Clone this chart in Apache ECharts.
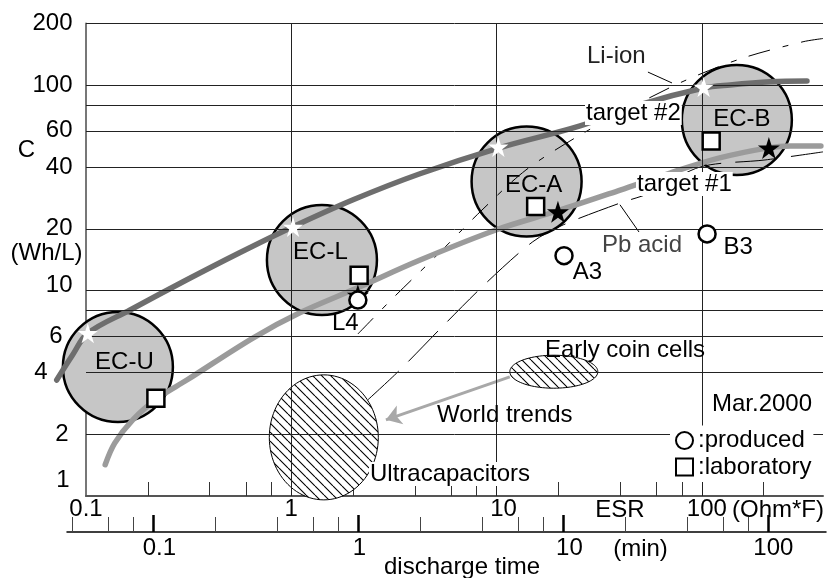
<!DOCTYPE html>
<html><head><meta charset="utf-8">
<script src="https://cdn.jsdelivr.net/npm/echarts@6/dist/echarts.min.js"></script>
<style>html,body{margin:0;padding:0;background:#fff}#c{width:827px;height:578px}</style>
</head><body><div id="c"></div>
<script>
// ---------- data ----------
const yTickLabels = [1, 2, 4, 6, 10, 20, 40, 60, 100, 200];
const yGridValues = [2, 4, 6, 8, 10, 20, 40, 60, 80, 100, 200];
const esrGridValues = [1, 10, 100];
const esrTickValues = [0.2, 0.4, 0.6, 0.8, 1, 2, 4, 6, 8, 10, 20, 40, 60, 80, 100, 200];
const esrLabelValues = [0.1, 1, 10, 100];
const timeMinorTicks = [0.04, 0.06, 0.08, 0.2, 0.4, 0.6, 0.8, 2, 4, 6, 8, 20, 40, 60, 80];
const timeMajorTicks = [0.1, 1, 10, 100];

const capNames = ['EC-U', 'EC-L', 'EC-A', 'EC-B'];
const capX = [0.143, 1.41, 14.0, 148];
const capY = [4.25, 14.1, 34.0, 67.8];

const labX = [0.219, 2.14, 15.5, 111];
const labY = [2.99, 11.9, 25.7, 53.6];

const prodNames = ['L4', 'A3', 'B3'];
const prodX = [2.11, 21.3, 106];
const prodY = [9.0, 14.8, 18.9];

const blackStarX = [2.11, 19.9, 212];
const blackStarY = [9.5, 24.2, 49.5];

const whiteStarX = [0.102, 1.02, 10.2, 102];
const whiteStarY = [6.2, 20.4, 50.1, 98];

const target2X = [0.072, 0.086, 0.102, 0.164, 0.31, 0.56, 0.99, 2.0, 4.2, 10.3, 25.5, 50, 102, 137, 215, 325];
const target2Y = [3.67, 4.86, 6.2, 8.05, 11.3, 15.3, 20.2, 27.7, 37, 49.6, 63.4, 80.5, 97, 100.4, 104, 105];

const target1X = [0.124, 0.138, 0.169, 0.224, 0.31, 0.65, 1.1, 2.09, 4.24, 10, 19.9, 40, 70, 122, 210, 270, 380];
const target1Y = [1.42, 1.81, 2.35, 3.0, 3.67, 5.88, 7.8, 10.3, 14.1, 19.8, 24.5, 30.9, 37.4, 44.3, 49.6, 50.7, 50.7];

const liIonX = [2.11, 3.13, 5.13, 8.49, 13.9, 24.6, 45.6, 83.7, 159, 311, 389];
const liIonY = [6.15, 9.21, 14.9, 24.7, 38.7, 56.1, 78.5, 106, 136, 163, 169];

const pbAcidX = [2.36, 3.38, 5.48, 8.98, 15.0, 21.1, 39.9, 55.9, 97.9, 203, 389];
const pbAcidY = [2.94, 4.11, 6.73, 11.0, 17.3, 20.9, 26.7, 29.9, 40.0, 43.3, 47.4];

const regionNames = ['Ultracapacitors', 'Early coin cells'];
const regionX = [1.44, 19.0];
const regionY = [1.93, 4.03];

const liIonLeaderX = [54.6, 71.5];
const liIonLeaderY = [116, 102.7];
const pbLeaderX = [39.9, 49.4];
const pbLeaderY = [26.2, 19.3];

const trendFrom = [11.6, 3.80];
const trendTo = [2.89, 2.35];

// ---------- styles ----------
const FONT = '"Liberation Sans", Arial, sans-serif';
const FS = 24;
const STAR = 'path://M50,0L61.8,35.1L98.9,35.1L68.9,56.8L80.3,91.9L50,70.2L19.7,91.9L31.1,56.8L1.1,35.1L38.2,35.1Z';
const capLabelOffsets = [[6.5, -5], [-1.5, -8], [7, 3.5], [5, -1]];
const prodLabelOffsets = [[-12.5, 23.5], [23.5, 17], [31, 13]];
const regionSizes = [[109, 125], [88, 33]];

const zip = (xs, ys) => xs.map((x, i) => [x, ys[i]]);
const fmt = v => String(Math.round(v * 1000) / 1000);
const ts = (extra) => Object.assign({fontSize: FS, fontFamily: FONT, color: '#000'}, extra || {});

const yRichKey = {'6': 's6', '4': 's4', '2': 's2', '1': 's1', '10': 's10'};
const esrRichKey = {'10': 'p14', '100': 'p10'};
const timeRichKey = {'0.1': 'p12', '1': 'p2', '10': 'p12', '100': 'p10'};

function hatchPattern(size, lw) {
  const c = document.createElement('canvas');
  c.width = size; c.height = size;
  const g = c.getContext('2d');
  g.fillStyle = '#fff'; g.fillRect(0, 0, size, size);
  g.strokeStyle = '#000'; g.lineWidth = lw;
  g.beginPath();
  [-size, 0, size].forEach(o => { g.moveTo(o, 0); g.lineTo(o + size, size); });
  g.stroke();
  return c;
}
const HATCH = hatchPattern(9, 1.1);

function ellipsePoints(cx, cy, rx, ry) {
  const pts = [];
  for (let i = 0; i < 96; i++) {
    const a = i / 96 * Math.PI * 2;
    pts.push([cx + rx * Math.cos(a), cy + ry * Math.sin(a)]);
  }
  return pts;
}

function txt(text, x, y, align, extra) {
  return {
    type: 'text', x: x, y: y, z: 100, silent: true,
    style: Object.assign({
      text: text, fontSize: FS, fontFamily: FONT, fill: '#000',
      align: align, textAlign: align, verticalAlign: 'middle', textVerticalAlign: 'middle'
    }, extra || {})
  };
}

const chart = echarts.init(document.getElementById('c'), null, {renderer: 'canvas'});
const markerStyle = {color: '#fff', borderColor: '#000', borderWidth: 2.5};

chart.setOption({
  animation: false,
  backgroundColor: '#fff',
  textStyle: {fontFamily: FONT},
  grid: [
    {left: 86, top: 23.5, width: 737, height: 472.5},
    {left: 67, top: 531, width: 759, height: 1},
    // same ESR/C scales, extended to the left so the target #2 curve can start outside the frame
    {left: 24.2, top: 23.5, width: 798.8, height: 472.5}
  ],
  xAxis: [
    {
      gridIndex: 0, type: 'log', logBase: 10, min: 0.1, max: 389, position: 'bottom',
      axisLine: {show: true, onZero: false, lineStyle: {color: '#555', width: 2}},
      axisTick: {show: true, inside: true, length: 14, customValues: esrTickValues, lineStyle: {color: '#333', width: 1}},
      axisLabel: {
        show: true, customValues: esrLabelValues, margin: 1, fontSize: FS, fontFamily: FONT, color: '#000',
        formatter: v => { const t = fmt(v); const k = esrRichKey[t] || 'n'; return '{' + k + '|' + t + '}'; },
        rich: {n: ts(), p14: ts({padding: [0, 0, 0, 14]}), p10: ts({padding: [0, 0, 0, 10]})}
      },
      splitLine: {show: false}, minorTick: {show: false}
    },
    {
      gridIndex: 1, type: 'log', logBase: 10, min: 0.0379, max: 191, position: 'bottom',
      axisLine: {show: true, onZero: false, lineStyle: {color: '#000', width: 1.5}},
      axisTick: {show: true, inside: true, length: 15, customValues: timeMinorTicks, lineStyle: {color: '#444', width: 1}},
      axisLabel: {show: false},
      splitLine: {show: false}
    },
    {
      gridIndex: 1, type: 'log', logBase: 10, min: 0.0379, max: 191, position: 'bottom',
      axisLine: {show: false, onZero: false},
      axisTick: {show: true, inside: true, length: 17, customValues: timeMajorTicks, lineStyle: {color: '#000', width: 2.5}},
      axisLabel: {
        show: true, customValues: timeMajorTicks, margin: 4, fontSize: FS, fontFamily: FONT, color: '#000',
        formatter: v => { const t = fmt(v); const k = timeRichKey[t] || 'n'; return '{' + k + '|' + t + '}'; },
        rich: {n: ts(), p12: ts({padding: [0, 0, 0, 12]}), p10: ts({padding: [0, 0, 0, 10]}), p2: ts({padding: [0, 0, 0, 2]})}
      },
      splitLine: {show: false}
    },
    {gridIndex: 2, type: 'log', logBase: 10, min: 0.05, max: 389, show: false}
  ],
  yAxis: [
    {
      gridIndex: 0, type: 'log', logBase: 10, min: 1, max: 200,
      axisLine: {show: true, lineStyle: {color: '#777', width: 2}},
      axisTick: {show: false},
      axisLabel: {
        show: true, customValues: yTickLabels, margin: 13.5, fontSize: FS, fontFamily: FONT, color: '#000',
        formatter: v => { const t = fmt(v); const k = yRichKey[t] || 'n'; return '{' + k + '|' + t + '}'; },
        rich: {
          n: ts(), s6: ts({padding: [0, 10, 0, 0]}), s4: ts({padding: [0, 25, 0, 0]}),
          s2: ts({padding: [0, 4, 0, 0]}), s1: ts({padding: [0, 3, 32, 0]}), s10: ts({padding: [0, 0, 11, 0]})
        }
      },
      splitLine: {show: false}
    },
    {gridIndex: 1, type: 'value', show: false, min: 0, max: 1},
    {gridIndex: 2, type: 'log', logBase: 10, min: 1, max: 200, show: false}
  ],
  legend: {
    data: [{name: 'produced', icon: 'circle'}, {name: 'laboratory', icon: 'rect'}],
    orient: 'vertical', left: 670, top: 425.5, padding: [3, 2, 3, 5],
    itemWidth: 17, itemHeight: 17, itemGap: 2.5, itemTextGap: 5,
    backgroundColor: '#fff', selectedMode: false, z: 20,
    formatter: ':{name}',
    textStyle: {fontSize: FS, fontFamily: FONT, color: '#000', lineHeight: 20}
  },
  series: [
    { // gray capacitor circles
      type: 'scatter', name: 'capacitors', z: 1, symbol: 'circle', symbolSize: 110, silent: true,
      itemStyle: {color: '#c6c6c6', borderColor: '#000', borderWidth: 2.5, opacity: 1},
      label: {show: true, position: 'inside', formatter: '{b}', fontSize: FS, fontFamily: FONT, color: '#000'},
      data: capNames.map((n, i) => ({name: n, value: [capX[i], capY[i]], label: {offset: capLabelOffsets[i]}}))
    },
    { // hatched regions (ellipses centred on data points)
      type: 'custom', name: 'regions', z: 1, silent: true, clip: false,
      renderItem: (params, api) => {
        const c = api.coord([api.value(0), api.value(1)]);
        const sz = regionSizes[params.dataIndex];
        return {
          type: 'polygon',
          shape: {points: ellipsePoints(c[0], c[1], sz[0] / 2, sz[1] / 2)},
          style: {fill: {image: HATCH, repeat: 'repeat'}, stroke: '#000', lineWidth: 1}
        };
      },
      data: regionNames.map((n, i) => ({name: n, value: [regionX[i], regionY[i]]}))
    },
    { // grid lines
      type: 'line', name: 'grid', data: [], z: 3, clip: false, silent: true,
      markLine: {
        silent: true, symbol: ['none', 'none'], label: {show: false}, animation: false,
        lineStyle: {color: '#222', width: 1, type: 'solid'},
        emphasis: {disabled: true},
        data: yGridValues.map(v => ({yAxis: v})).concat(esrGridValues.map(v => ({xAxis: v})))
      }
    },
    { // Li-ion band
      type: 'line', name: 'Li-ion', z: 3, symbol: 'none', smooth: 0.3, silent: true,
      lineStyle: {color: '#000', width: 1, type: [22, 13, 6, 13]},
      data: zip(liIonX, liIonY)
    },
    { // Pb acid
      type: 'line', name: 'Pb acid', z: 3, symbol: 'none', smooth: 0.3, silent: true,
      lineStyle: {color: '#000', width: 1, type: [42, 14]},
      data: zip(pbAcidX, pbAcidY)
    },
    {type: 'line', name: 'leader1', z: 3, symbol: 'none', silent: true, lineStyle: {color: '#000', width: 1}, data: zip(liIonLeaderX, liIonLeaderY)},
    {type: 'line', name: 'leader2', z: 3, symbol: 'none', silent: true, lineStyle: {color: '#000', width: 1}, data: zip(pbLeaderX, pbLeaderY)},
    { // world trends arrow
      type: 'lines', coordinateSystem: 'cartesian2d', xAxisIndex: 0, yAxisIndex: 0, z: 4, silent: true,
      symbol: ['none', 'arrow'], symbolSize: 15,
      lineStyle: {color: '#a8a8a8', width: 3, opacity: 1, curveness: 0},
      data: [{coords: [trendFrom, trendTo]}]
    },
    {
      type: 'line', name: 'target #2', z: 4, xAxisIndex: 3, yAxisIndex: 2, symbol: 'none', smooth: 0.35, silent: true, clip: false,
      lineStyle: {color: '#6e6e6e', width: 5.5, cap: 'round'},
      data: zip(target2X, target2Y)
    },
    {
      type: 'line', name: 'target #1', z: 4, symbol: 'none', smooth: 0.35, silent: true, clip: false,
      lineStyle: {color: '#9b9b9b', width: 5.5, cap: 'round'},
      data: zip(target1X, target1Y)
    },
    {type: 'scatter', name: 'black stars', z: 5, symbol: STAR, symbolSize: 22, silent: true, itemStyle: {color: '#000', opacity: 1}, data: zip(blackStarX, blackStarY)},
    {type: 'scatter', name: 'white stars', z: 5, symbol: STAR, symbolSize: 20, silent: true, itemStyle: {color: '#fff', opacity: 1}, data: zip(whiteStarX, whiteStarY)},
    {type: 'scatter', name: 'laboratory', z: 6, symbol: 'rect', symbolSize: 17, silent: true, itemStyle: Object.assign({opacity: 1}, markerStyle), data: zip(labX, labY)},
    {
      type: 'scatter', name: 'produced', z: 6, symbol: 'circle', symbolSize: 17, silent: true,
      itemStyle: Object.assign({opacity: 1}, markerStyle),
      label: {show: true, position: 'inside', formatter: '{b}', fontSize: FS, fontFamily: FONT, color: '#000'},
      data: prodNames.map((n, i) => ({name: n, value: [prodX[i], prodY[i]], label: {offset: prodLabelOffsets[i]}}))
    }
  ],
  graphic: [
    txt('C', 26.5, 150, 'center'),
    txt('(Wh/L)', 46.5, 253, 'center'),
    txt('Li-ion', 587, 56, 'left', {fill: '#222'}),
    txt('target #2', 585, 113, 'left', {backgroundColor: '#fff', padding: [0, 1]}),
    txt('target #1', 636, 184, 'left', {backgroundColor: '#fff', padding: [0, 1]}),
    txt('Pb acid', 602, 245, 'left', {fill: '#444'}),
    txt('Early coin cells', 545, 350, 'left'),
    txt('World trends', 437, 415, 'left'),
    txt('Ultracapacitors', 369, 474, 'left', {backgroundColor: '#fff', padding: [0, 1]}),
    txt('Mar.2000', 712, 404, 'left'),
    txt('ESR', 620, 510, 'center'),
    txt('(Ohm*F)', 732, 510, 'left'),
    txt('(min)', 640.5, 549, 'center'),
    txt('discharge time', 384, 567, 'left')
  ]
});
</script></body></html>
